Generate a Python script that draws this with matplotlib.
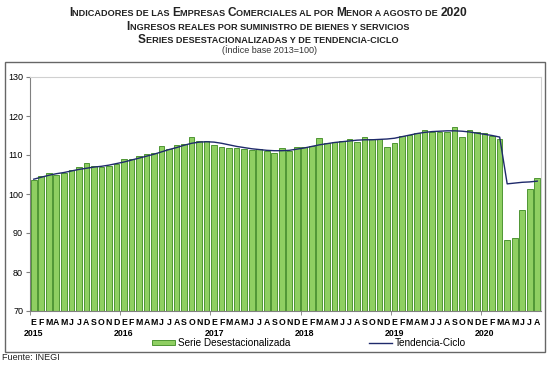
import numpy as np
import matplotlib
matplotlib.use('Agg')
import matplotlib.pyplot as plt
from matplotlib.patches import Rectangle
from matplotlib.lines import Line2D

plt.rcParams['font.family'] = ['Liberation Sans', 'DejaVu Sans']

months = ['E', 'F', 'M', 'A', 'M', 'J', 'J', 'A', 'S', 'O', 'N', 'D']
years = ['2015', '2016', '2017', '2018', '2019', '2020']

# serie desestacionalizada, ene 2015 - ago 2020
serie = [103.7, 104.6, 105.3, 104.9, 105.4, 106.1, 106.9, 108.0, 107.1, 107.0, 107.2, 107.8,
         109.1, 108.9, 109.8, 110.3, 110.6, 112.3, 111.5, 112.5, 112.8, 114.6, 113.5, 113.5,
         112.5, 112.1, 111.8, 111.8, 111.6, 111.3, 111.6, 111.1, 110.6, 111.8, 111.1, 112.0,
         112.1, 112.3, 114.4, 113.1, 113.4, 113.7, 114.0, 113.3, 114.5, 114.0, 114.2, 112.1,
         113.0, 115.0, 115.2, 115.6, 116.3, 115.9, 116.0, 115.9, 117.3, 114.6, 116.4, 115.9,
         115.6, 115.0, 114.0, 88.2, 88.8, 95.8, 101.4, 104.0]

tendencia = [103.8, 104.3, 104.8, 105.2, 105.5, 105.9, 106.3, 106.6, 106.9, 107.1, 107.4, 107.8,
             108.2, 108.7, 109.2, 109.7, 110.2, 110.8, 111.4, 111.9, 112.5, 113.0, 113.3, 113.4,
             113.3, 113.0, 112.6, 112.2, 111.9, 111.6, 111.4, 111.2, 111.1, 111.1, 111.2, 111.5,
             111.8, 112.2, 112.6, 112.9, 113.2, 113.4, 113.6, 113.8, 113.9, 113.9, 114.0, 114.1,
             114.3, 114.7, 115.1, 115.5, 115.8, 116.0, 116.1, 116.2, 116.2, 116.1, 115.9, 115.6,
             115.3, 115.0, 114.6, 102.6, 102.8, 103.0, 103.1, 103.3]

titulos = ['Indicadores de las Empresas Comerciales al por Menor a agosto de 2020',
           'Ingresos reales por suministro de bienes y servicios',
           'Series desestacionalizadas y de tendencia-ciclo']

n = len(serie)
x = np.arange(n)

fig = plt.figure(figsize=(5.48, 3.68), dpi=100)
ax = fig.add_axes([30/548, 1-311/368, 511/548, 234/368])

ax.bar(x, np.array(serie) - 70, bottom=70, width=0.75, color='#8fcf62',
       edgecolor='#4f9634', linewidth=0.7, zorder=2)
ax.plot(x, tendencia, color='#1f2a6b', lw=1.0, zorder=3)

ax.set_xlim(-0.5, n - 0.5)
ax.set_ylim(70, 130)
ax.set_yticks(range(70, 131, 10))
ax.tick_params(axis='y', labelsize=6.5, length=3, color='#808080', pad=2)

ax.set_xticks(x)
ax.set_xticklabels([months[i % 12] for i in x], fontsize=6.3, fontweight='bold')
ax.tick_params(axis='x', length=0, pad=5)
ax.set_xticks(np.arange(-0.5, n, 12), minor=True)
ax.tick_params(axis='x', which='minor', length=3, color='#808080')
for k, yr in enumerate(years):
    ax.text(k * 12, -(333 - 311) / 234, yr, transform=ax.get_xaxis_transform(), ha='center',
            va='center', fontsize=6.3, fontweight='bold')

for s in ['top', 'right']:
    ax.spines[s].set_color('#d0d0d0')
for s in ['left', 'bottom']:
    ax.spines[s].set_color('#808080')


# titulo con versalitas: mayusculas grandes, minusculas como mayusculas chicas
def versalitas(y, texto, big=8.6, small=6.6):
    runs = []
    for ch in texto:
        size = big if (ch.isupper() or ch.isdigit()) else small
        if runs and runs[-1][1] == size:
            runs[-1][0] += ch.upper()
        else:
            runs.append([ch.upper(), size])
    return [fig.text(0, y, t, fontsize=s, fontweight='bold', ha='left', va='baseline',
                     color='#222222') for t, s in runs]

filas = [versalitas(1 - yy / 368, tt) for yy, tt in zip([16, 30, 43], titulos)]
fig.canvas.draw()
r = fig.canvas.get_renderer()
for fila in filas:
    anchos = [t.get_window_extent(r).width for t in fila]
    pos = 268 - sum(anchos) / 2
    for t, w in zip(fila, anchos):
        t.set_x(pos / 548)
        pos += w

fig.text(270/548, 1-50/368, '(Índice base 2013=100)', ha='center', va='center', fontsize=6.5, color='#333333')

handles = [Rectangle((0, 0), 1, 1, facecolor='#8fcf62', edgecolor='#4f9634', lw=0.7),
           Line2D([], [], color='#1f2a6b', lw=1.0)]
fig.legend(handles, ['Serie Desestacionalizada', 'Tendencia-Ciclo'], loc='center',
           bbox_to_anchor=(309/548, 1-343/368), ncol=2, frameon=False, fontsize=7.2,
           handlelength=2.3, handleheight=0.5, columnspacing=7.9, handletextpad=0.25)

fig.patches.append(Rectangle((5/548, 1-352/368), 540/548, 290/368, transform=fig.transFigure,
                             fill=False, edgecolor='#666666', lw=1.0))
fig.text(2/548, 1-358/368, 'Fuente: INEGI', ha='left', va='center', fontsize=6.5, color='#222222')

fig.savefig('out.png', dpi=100)
